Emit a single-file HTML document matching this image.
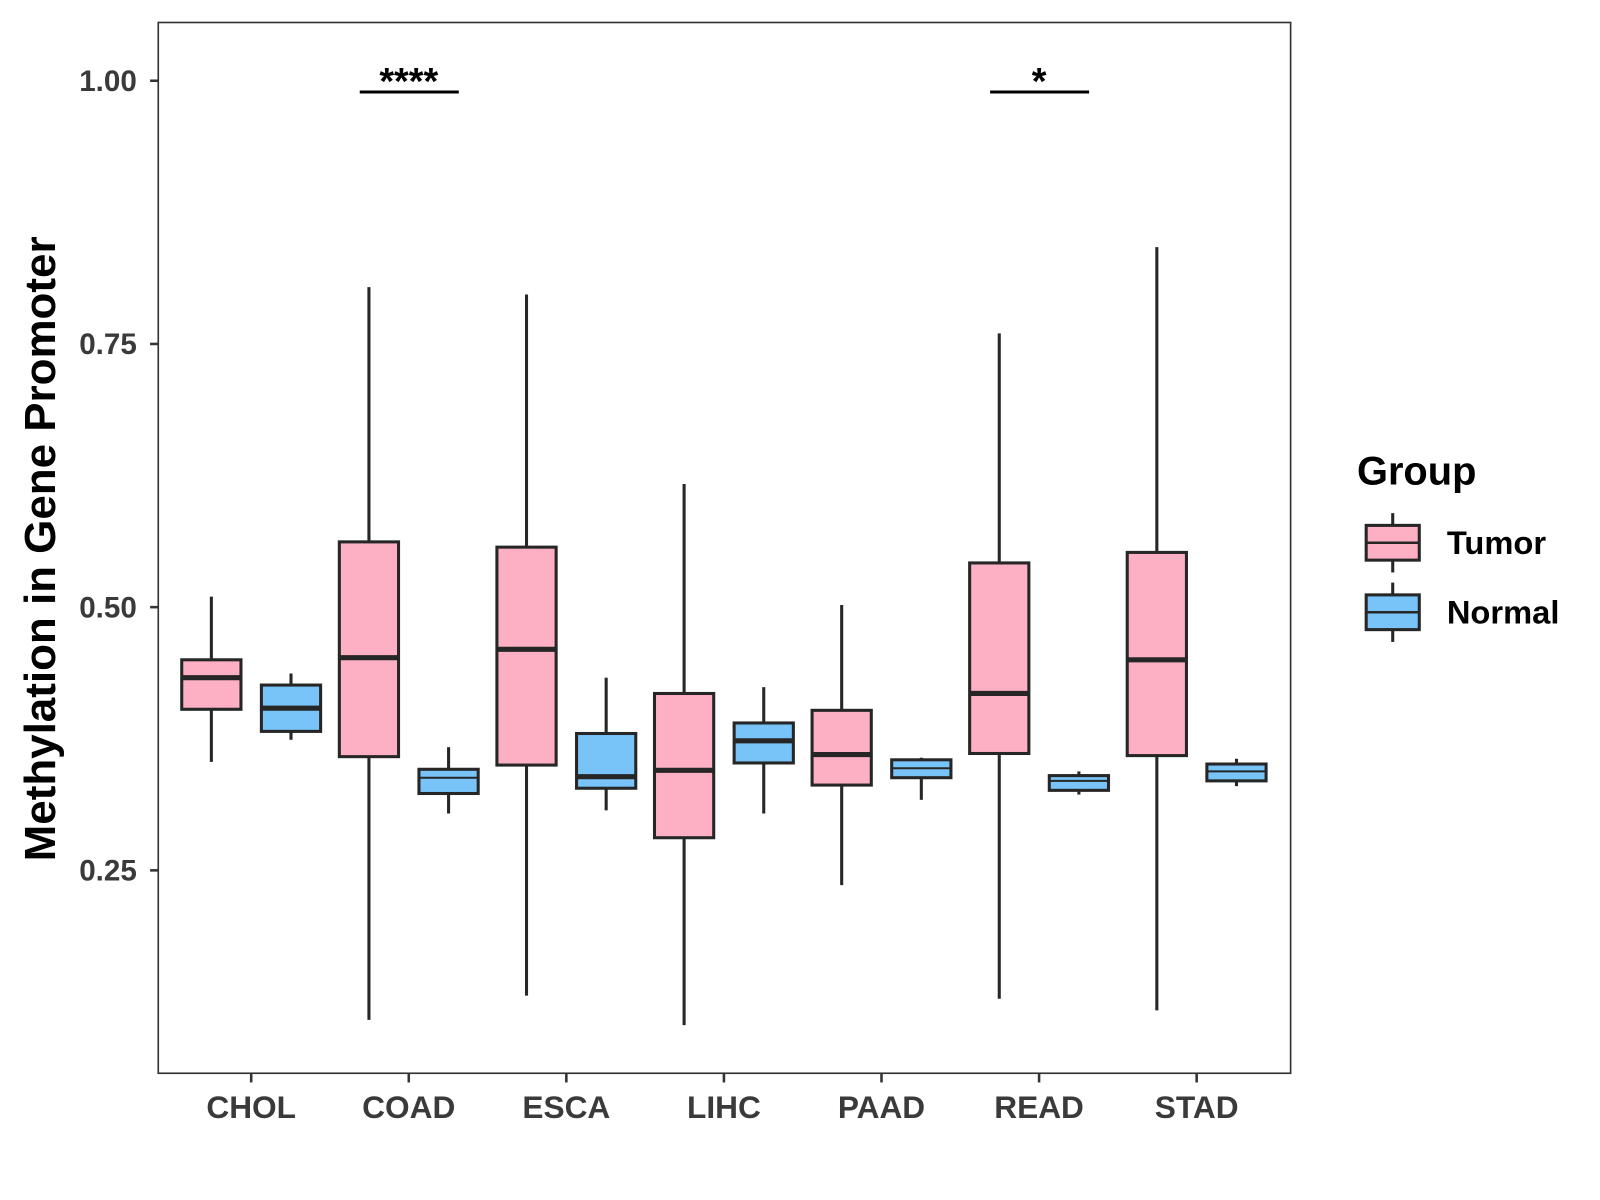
<!DOCTYPE html>
<html><head><meta charset="utf-8"><style>
html,body{margin:0;padding:0;background:#fff;}
svg{display:block;font-family:"Liberation Sans",Arial,sans-serif;}
</style></head><body>
<svg id="chart" width="1600" height="1200" viewBox="0 0 1567 1174" preserveAspectRatio="none" xmlns="http://www.w3.org/2000/svg"></svg>
<script>
const categories = ["CHOL","COAD","ESCA","LIHC","PAAD","READ","STAD"];
const tumorLo  = [0.353,0.108,0.131,0.103,0.236,0.128,0.117];
const tumorQ1  = [0.403,0.358,0.350,0.281,0.331,0.361,0.359];
const tumorMed = [0.433,0.452,0.460,0.345,0.360,0.418,0.450];
const tumorQ3  = [0.450,0.562,0.557,0.418,0.402,0.542,0.552];
const tumorHi  = [0.510,0.804,0.797,0.617,0.502,0.760,0.842];
const normalLo  = [0.374,0.304,0.307,0.304,0.317,0.322,0.330];
const normalQ1  = [0.382,0.323,0.328,0.352,0.338,0.326,0.335];
const normalMed = [0.404,0.338,0.339,0.373,0.347,0.335,0.344];
const normalQ3  = [0.426,0.346,0.380,0.390,0.355,0.340,0.351];
const normalHi  = [0.437,0.367,0.433,0.424,0.357,0.344,0.356];
const yTicks = [0.25,0.50,0.75,1.00];
const yTickLabels = ["0.25","0.50","0.75","1.00"];
const sigCategories = ["COAD","READ"];
const sigLabels = ["****","*"];

const NS="http://www.w3.org/2000/svg";
const svg=document.getElementById('chart');
const P={l:155,r:1264,t:22,b:1050};
const y=v=>79+(1-v)*1030;
const x=i=>246+i*154.33;
const off=39, bw=58, ink="#262626";
function el(tag,attrs,parent){const e=document.createElementNS(NS,tag);for(const k in attrs)e.setAttribute(k,attrs[k]);(parent||svg).appendChild(e);return e;}

const panel=el('rect',{x:P.l,y:P.t,width:P.r-P.l,height:P.b-P.t,fill:'none',stroke:'#333',"stroke-width":1.6});



yTicks.forEach((v,i)=>{
  const t=el('line',{x1:P.l-8,x2:P.l,y1:y(v),y2:y(v),stroke:'#333',"stroke-width":2.5});
  
  
  const tx=el('text',{x:134,y:y(v)+10,"text-anchor":"end","font-size":29,"font-weight":"bold",fill:'#3a3a3a'});
  tx.textContent=yTickLabels[i];
  
  
});
categories.forEach((c,i)=>{
  const t=el('line',{x1:x(i),x2:x(i),y1:P.b,y2:P.b+9,stroke:'#333',"stroke-width":2.5});
  
  
  const tx=el('text',{x:x(i),y:1094,"text-anchor":"middle","font-size":31,"font-weight":"bold",fill:'#3a3a3a'});
  tx.textContent=c;
  
  
});

function box(cx,lo,q1,med,q3,hi,fill,name){
  const g=el('g',{});
  
  
  el('line',{x1:cx,x2:cx,y1:y(hi),y2:y(q3),stroke:ink,"stroke-width":3},g);
  el('line',{x1:cx,x2:cx,y1:y(q1),y2:y(lo),stroke:ink,"stroke-width":3},g);
  el('rect',{x:cx-bw/2,y:y(q3),width:bw,height:y(q1)-y(q3),fill:fill,stroke:ink,"stroke-width":3},g);
  const h=y(q1)-y(q3);
  el('line',{x1:cx-bw/2,x2:cx+bw/2,y1:y(med),y2:y(med),stroke:ink,"stroke-width":h<25?2:5},g);
}
categories.forEach((c,i)=>{
  box(x(i)-off,tumorLo[i],tumorQ1[i],tumorMed[i],tumorQ3[i],tumorHi[i],'#FDB0C3','box-tumor-'+c.toLowerCase());
  box(x(i)+off,normalLo[i],normalQ1[i],normalMed[i],normalQ3[i],normalHi[i],'#78C3F8','box-normal-'+c.toLowerCase());
});

sigCategories.forEach((c,k)=>{
  const i=categories.indexOf(c);
  const ln=el('line',{x1:x(i)-48,x2:x(i)+49,y1:90,y2:90,stroke:'#000',"stroke-width":3});
  
  
  const tx=el('text',{x:x(i),y:92,"text-anchor":"middle","font-size":37,"font-weight":"bold",fill:'#000'});
  tx.textContent=sigLabels[k];
  
  
});

const yt=el('text',{x:0,y:0,transform:'translate(54,537) rotate(-90)',"text-anchor":"middle","font-size":43,"font-weight":"bold",fill:'#000'});
yt.textContent='Methylation in Gene Promoter';



const lg=el('g',{});


const lt=el('text',{x:1329,y:474,"font-size":39,"font-weight":"bold",fill:'#000'},lg);
lt.textContent='Group';


[["Tumor",'#FDB0C3',531],["Normal",'#78C3F8',599]].forEach(([n,f,cy])=>{
  const g=el('g',{},lg);
  
  
  el('line',{x1:1364,x2:1364,y1:cy-29,y2:cy+29,stroke:ink,"stroke-width":3},g);
  el('rect',{x:1338,y:cy-17,width:52,height:34,fill:f,stroke:ink,"stroke-width":3},g);
  el('line',{x1:1338,x2:1390,y1:cy,y2:cy,stroke:ink,"stroke-width":2.5},g);
  const t=el('text',{x:1417,y:cy+11,"font-size":32,"font-weight":"bold",fill:'#000'},g);
  t.textContent=n;
});
</script>
</body></html>
